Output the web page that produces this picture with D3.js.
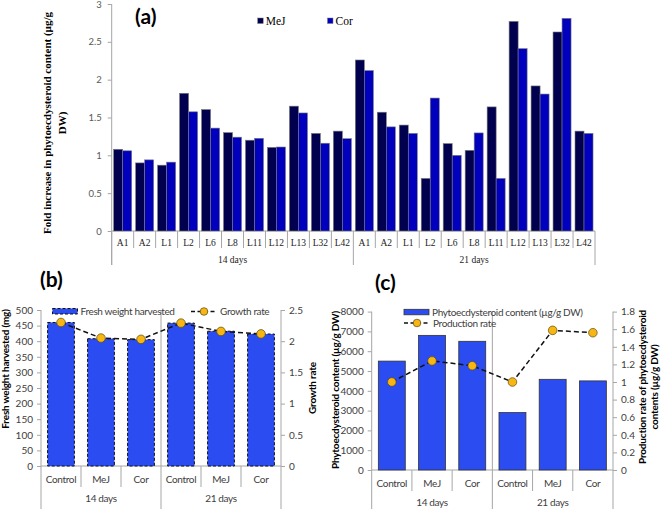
<!DOCTYPE html>
<html><head><meta charset="utf-8">
<script src="https://cdn.jsdelivr.net/npm/d3@7"></script>
<style>body{margin:0;background:#fff} svg{display:block}</style>
</head><body>
<svg id="chart" width="661" height="509"></svg>
<script>
// ---------- DATA ----------
const aCats = ["A1","A2","L1","L2","L6","L8","L11","L12","L13","L32","L42"];
const aGroups = ["14 days","21 days"];
const aMeJ = [1.08,0.90,0.87,1.82,1.605,1.30,1.20,1.105,1.65,1.29,1.32,
              2.26,1.57,1.40,0.695,1.155,1.066,1.64,2.77,1.917,2.63,1.32];
const aCor = [1.06,0.94,0.91,1.575,1.36,1.24,1.225,1.11,1.56,1.16,1.22,
              2.12,1.376,1.29,1.757,1.0,1.296,0.695,2.41,1.81,2.81,1.29];
const aTicks = [0,0.5,1,1.5,2,2.5,3];

const bcCats = ["Control","MeJ","Cor"];
const bcGroups = ["14 days","21 days"];
const bWeight = [460,408,405,458,432,423];
const bGrowth = [2.30,2.05,2.03,2.29,2.157,2.117];
const bLeftTicks = [0,50,100,150,200,250,300,350,400,450,500];
const bRightTicks = [0,0.5,1,1.5,2,2.5];

const cContent = [5500,6800,6500,2900,4580,4500];
const cRate = [1.0,1.24,1.185,1.0,1.587,1.56];
const cLeftTicks = [0,1000,2000,3000,4000,5000,6000,7000,8000];
const cRightTicks = [0,0.2,0.4,0.6,0.8,1,1.2,1.4,1.6,1.8];

// ---------- STYLE ----------
const svg = d3.select("#chart");
const SANS = "Lato, 'Open Sans', sans-serif";
const SERIF = "'Liberation Serif', 'Times New Roman', serif";
const AXC = "#a6a6a6";
const TXT = "#404040";
const LS = "-0.35px";
const fmt = d => String(+d.toFixed(2));

// ---------- PANEL A ----------
(function(){
  const g = svg.append("g");
  const n = aMeJ.length;
  const X0 = 111.7, X1 = 595;
  const x = d3.scaleBand().domain(d3.range(n)).range([X0,X1]).paddingInner(0.18).paddingOuter(0.09);
  const y = d3.scaleLinear().domain([0,3]).range([231,4]);
  const inner = d3.scaleBand().domain(["MeJ","Cor"]).range([0,x.bandwidth()]);
  const colors = {MeJ:"#00004f", Cor:"#0000bd"};
  const series = {MeJ:aMeJ, Cor:aCor};

  const yAx = g.append("g").attr("transform",`translate(${X0},0)`)
    .call(d3.axisLeft(y).tickValues(aTicks).tickSize(4).tickPadding(6).tickFormat(fmt));
  yAx.select(".domain").remove();
  yAx.selectAll(".tick line").attr("stroke",AXC);
  yAx.selectAll(".tick text").attr("fill","#595959").style("font-family",SANS).style("font-size","9.5px");
  g.append("line").attr("x1",X0).attr("x2",X0).attr("y1",y(3)).attr("y2",265).attr("stroke",AXC);
  g.append("line").attr("x1",X0).attr("x2",X1).attr("y1",y(0)).attr("y2",y(0)).attr("stroke",AXC);

  ["MeJ","Cor"].forEach(k=>{
    g.selectAll(null).data(series[k]).enter().append("rect")
      .attr("x",(d,i)=>x(i)+inner(k)).attr("width",inner.bandwidth())
      .attr("y",d=>y(d)).attr("height",d=>y(0)-y(d))
      .attr("fill",colors[k]).attr("stroke","#7a7a7a").attr("stroke-width",0.6);
  });

  const step = x.step();
  const edge = i => X0 + i*step;
  for(let i=0;i<=n;i++){
    const grp = (i % aCats.length === 0);
    g.append("line").attr("x1",edge(i)).attr("x2",edge(i)).attr("y1",y(0)).attr("y2",grp?265:248).attr("stroke",AXC);
  }
  g.selectAll(null).data(d3.range(n)).enter().append("text")
    .attr("x",i=>x(i)+x.bandwidth()/2).attr("y",245.5).attr("text-anchor","middle")
    .style("font-family",SERIF).style("font-size","9.5px").attr("fill","#222")
    .text(i=>aCats[i % aCats.length]);
  aGroups.forEach((t,gi)=>{
    const mid = (edge(gi*aCats.length)+edge((gi+1)*aCats.length))/2;
    g.append("text").attr("x",mid).attr("y",262.5).attr("text-anchor","middle")
      .style("font-family",SERIF).style("font-size","9.5px").attr("fill","#222").text(t);
  });

  // y label
  const yl = g.append("text").attr("transform","translate(51,123) rotate(-90)").attr("text-anchor","middle")
    .style("font-family",SERIF).style("font-weight","bold").style("font-size","11px").attr("fill","#000");
  yl.append("tspan").attr("x",0).attr("y",0).text("Fold increase in phytoecdysteroid content (µg/g");
  yl.append("tspan").attr("x",0).attr("y",14.5).text("DW)");

  // title
  g.append("text").attr("x",135).attr("y",24).style("font-family",SANS).style("font-weight","bold")
    .style("font-size","21px").attr("fill","#000").text("(a)");

  // legend
  [["MeJ",257.7],["Cor",327.5]].forEach(([k,lx])=>{
    g.append("rect").attr("x",lx).attr("y",18).attr("width",5.5).attr("height",5.5).attr("fill",colors[k]).attr("stroke","#7a7a7a").attr("stroke-width",0.5);
    g.append("text").attr("x",lx+8).attr("y",24.5).style("font-family",SERIF).style("font-size","11.5px").attr("fill","#000").text(k);
  });
})();

// ---------- COMBO PANELS (b, c) ----------
function combo(o){
  const g = svg.append("g");
  const n = o.bars.length;
  const x = d3.scaleBand().domain(d3.range(n)).range([o.x0,o.x1]).paddingInner(0.33).paddingOuter(0.165);
  const y = d3.scaleLinear().domain([0,o.lMax]).range([o.y0,o.yTop]);
  const yr = d3.scaleLinear().domain([0,o.rMax]).range([o.y0,o.yTop]);

  const la = g.append("g").attr("transform",`translate(${o.x0},0)`)
    .call(d3.axisLeft(y).tickValues(o.lTicks).tickSize(4).tickPadding(4).tickFormat(fmt));
  la.select(".domain").remove();
  const ra = g.append("g").attr("transform",`translate(${o.x1},0)`)
    .call(d3.axisRight(yr).tickValues(o.rTicks).tickSize(4).tickPadding(4).tickFormat(fmt));
  ra.select(".domain").remove();
  [la,ra].forEach(a=>{
    a.selectAll(".tick line").attr("stroke",AXC);
    a.selectAll(".tick text").attr("fill",TXT).style("font-family",SANS).style("font-size","10px");
  });
  g.append("line").attr("x1",o.x0).attr("x2",o.x1).attr("y1",o.y0).attr("y2",o.y0).attr("stroke",AXC);

  g.selectAll(null).data(o.bars).enter().append("rect")
    .attr("x",(d,i)=>x(i)).attr("width",x.bandwidth())
    .attr("y",d=>y(d)).attr("height",d=>o.y0-y(d))
    .attr("fill",o.barFill).attr("stroke",o.barStroke).attr("stroke-width",o.barStrokeW)
    .attr("stroke-dasharray",o.barDash);

  const step = x.step();
  const edge = i => o.x0 + i*step;
  for(let i=0;i<=n;i++){
    const grp = (i % 3 === 0);
    g.append("line").attr("x1",edge(i)).attr("x2",edge(i)).attr("y1",grp?o.yTop:o.y0)
      .attr("y2",grp?509:o.y0+21).attr("stroke",AXC);
  }
  g.selectAll(null).data(d3.range(n)).enter().append("text")
    .attr("x",i=>x(i)+x.bandwidth()/2).attr("y",o.catY).attr("text-anchor","middle")
    .style("font-family",SANS).style("font-size","10px").style("letter-spacing",LS).attr("fill",TXT)
    .text(i=>bcCats[i%3]);
  bcGroups.forEach((t,gi)=>{
    g.append("text").attr("x",(edge(gi*3)+edge(gi*3+3))/2).attr("y",o.grpY).attr("text-anchor","middle")
      .style("font-family",SANS).style("font-size","10px").style("letter-spacing",LS).attr("fill",TXT).text(t);
  });

  const line = d3.line().x((d,i)=>x(i)+x.bandwidth()/2).y(d=>yr(d));
  g.append("path").datum(o.line).attr("d",line).attr("fill","none").attr("stroke","#111")
    .attr("stroke-width",1.5).attr("stroke-dasharray","5,3");
  g.selectAll(null).data(o.line).enter().append("circle")
    .attr("cx",(d,i)=>x(i)+x.bandwidth()/2).attr("cy",d=>yr(d)).attr("r",4.3)
    .attr("fill","#f7b614").attr("stroke","#5a4a10").attr("stroke-width",0.7);

  // axis labels
  const mk = (tx,ty,lines)=>{
    const t = g.append("text").attr("transform",`translate(${tx},${ty}) rotate(-90)`).attr("text-anchor","middle")
      .style("font-family",SANS).style("font-weight","bold").style("font-size","10px").style("letter-spacing","-0.2px").attr("fill","#000");
    lines.forEach((s,i)=>t.append("tspan").attr("x",0).attr("y",i*12).text(s));
  };
  mk(o.lLabX,o.lLabY,o.lLab);
  mk(o.rLabX,o.rLabY,o.rLab);

  // title
  g.append("text").attr("x",o.titleX).attr("y",o.titleY).style("font-family",SANS).style("font-weight","bold")
    .style("font-size","21px").attr("fill","#000").text(o.title);

  // legend
  const L = o.legend;
  g.append("rect").attr("x",L.rx).attr("y",L.ry).attr("width",25).attr("height",5.5)
    .attr("fill",o.barFill).attr("stroke",o.barStroke).attr("stroke-width",o.barStrokeW).attr("stroke-dasharray",o.barDash);
  g.append("text").attr("x",L.rx+28).attr("y",L.ry+6.5).style("font-family",SANS).style("font-size","10px").style("letter-spacing",LS).attr("fill",TXT).text(L.barText);
  g.append("line").attr("x1",L.lx).attr("x2",L.lx+26).attr("y1",L.ly).attr("y2",L.ly).attr("stroke","#111").attr("stroke-width",1.5).attr("stroke-dasharray","4,2.5");
  g.append("circle").attr("cx",L.lx+13).attr("cy",L.ly).attr("r",3.8).attr("fill","#f7b614").attr("stroke","#5a4a10").attr("stroke-width",0.7);
  g.append("text").attr("x",L.lx+29).attr("y",L.ly+3.7).style("font-family",SANS).style("font-size","10px").style("letter-spacing",LS).attr("fill",TXT).text(L.lineText);
}

combo({
  x0:41, x1:281, y0:466, yTop:310, lMax:500, rMax:2.5,
  lTicks:bLeftTicks, rTicks:bRightTicks, bars:bWeight, line:bGrowth,
  barFill:"#2b4cf0", barStroke:"#111", barStrokeW:1, barDash:"3,2",
  catY:483, grpY:502,
  lLab:["Fresh weight harvested (mg)"], rLab:["Growth rate"], lLabX:9, rLabX:316, lLabY:369, rLabY:388,
  title:"(b)", titleX:40, titleY:287,
  legend:{rx:52.5,ry:308.5,barText:"Fresh weight harvested",lx:191,ly:311.5,lineText:"Growth rate"}
});
combo({
  x0:371.7, x1:613, y0:470, yTop:311.6, lMax:8000, rMax:1.8,
  lTicks:cLeftTicks, rTicks:cRightTicks, bars:cContent, line:cRate,
  barFill:"#2b4cf0", barStroke:"#333", barStrokeW:0.8, barDash:null,
  catY:487, grpY:506,
  lLab:["Phytoecdysteroid content (µg/g DW)"], rLab:["Production rate of phytoecdysteroid","contents (µg/g DW)"],
  lLabX:339, rLabX:646, lLabY:390, rLabY:387,
  title:"(c)", titleX:375, titleY:290,
  legend:{rx:404,ry:309.3,barText:"Phytoecdysteroid content (µg/g DW)",lx:404,ly:323,lineText:"Production rate"}
});
</script>
</body></html>
